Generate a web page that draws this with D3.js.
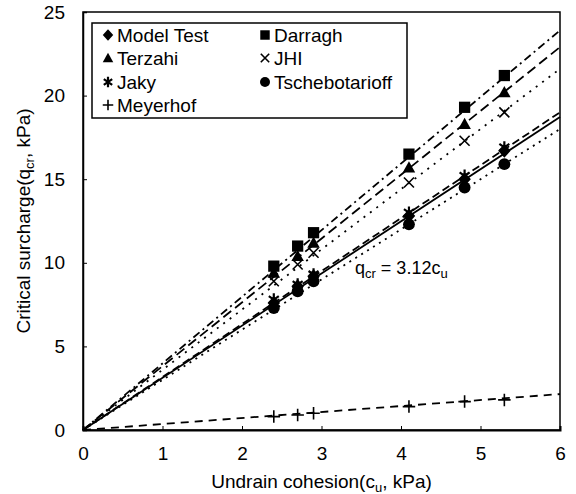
<!DOCTYPE html>
<html>
<head>
<meta charset="utf-8">
<script src="https://cdn.jsdelivr.net/npm/d3@7"></script>
<style>
  body { margin: 0; background: #fff; }
  svg { font-family: "Liberation Sans", Arial, sans-serif; }
</style>
</head>
<body>
<div id="chart"></div>
<script>
// measured points (cu, kPa)
const cu = [2.4, 2.7, 2.9, 4.1, 4.8, 5.3];

const modelTest = [7.6, 8.6, 9.2, 12.8, 15.0, 16.7];
const darragh = [9.8, 11.0, 11.8, 16.5, 19.3, 21.2];
const terzahi = [9.4, 10.4, 11.2, 15.7, 18.3, 20.2];
const jhi = [8.9, 9.9, 10.6, 14.8, 17.3, 19.0];
const jaky = [7.8, 8.7, 9.3, 13.0, 15.2, 16.9];
const tscheb = [7.3, 8.3, 8.9, 12.3, 14.5, 15.9];
const meyerhof = [0.8, 0.9, 1.0, 1.4, 1.7, 1.8];

// fitted lines, value at cu = 0 and cu = 6
const fitCu = [0, 6];
const fitModel = [0, 18.72];
const fitDarragh = [0, 23.9];
const fitTerzahi = [0, 22.9];
const fitJhi = [0, 21.6];
const fitJaky = [0, 19.0];
const fitTscheb = [0, 18.0];
const fitMeyerhof = [0, 2.15];

const xTicks = [0, 1, 2, 3, 4, 5, 6];
const yTicks = [0, 5, 10, 15, 20, 25];

const width = 576;
const height = 494;
const plot = {left: 83, right: 560, top: 12, bottom: 430};

const series = [
  {name: 'Model Test', values: modelTest, fit: fitModel, marker: 'diamond', dash: null},
  {name: 'Darragh', values: darragh, fit: fitDarragh, marker: 'square', dash: '8,4,2,4'},
  {name: 'Terzahi', values: terzahi, fit: fitTerzahi, marker: 'triangle', dash: '10,5'},
  {name: 'JHI', values: jhi, fit: fitJhi, marker: 'times', dash: '2,6'},
  {name: 'Jaky', values: jaky, fit: fitJaky, marker: 'asterisk', dash: '8,4'},
  {name: 'Tschebotarioff', values: tscheb, fit: fitTscheb, marker: 'circle', dash: '2,5'},
  {name: 'Meyerhof', values: meyerhof, fit: fitMeyerhof, marker: 'plus', dash: '8,6'}
];

const x = d3.scaleLinear().domain([0, 6]).range([plot.left, plot.right]);
const y = d3.scaleLinear().domain([0, 25]).range([plot.bottom, plot.top]);

const svg = d3.select('#chart')
  .append('svg')
  .attr('width', width)
  .attr('height', height);

// draws one marker of size s centred at (cx, cy)
function drawMarker(g, type, cx, cy, s) {
  const h = s / 2;
  if (type === 'diamond') {
    g.append('path')
      .attr('d', `M${cx},${cy - h * 1.1}L${cx + h},${cy}L${cx},${cy + h * 1.1}L${cx - h},${cy}Z`)
      .attr('fill', 'black');
  } else if (type === 'square') {
    g.append('rect')
      .attr('x', cx - h * 0.9).attr('y', cy - h * 0.9)
      .attr('width', s * 0.9).attr('height', s * 0.9)
      .attr('fill', 'black');
  } else if (type === 'triangle') {
    g.append('path')
      .attr('d', `M${cx},${cy - h}L${cx + h},${cy + h * 0.8}L${cx - h},${cy + h * 0.8}Z`)
      .attr('fill', 'black');
  } else if (type === 'circle') {
    g.append('circle')
      .attr('cx', cx).attr('cy', cy).attr('r', h * 0.95)
      .attr('fill', 'black');
  } else if (type === 'times') {
    const k = h * 0.8;
    g.append('path')
      .attr('d', `M${cx - k},${cy - k}L${cx + k},${cy + k}M${cx - k},${cy + k}L${cx + k},${cy - k}`)
      .attr('stroke', 'black').attr('stroke-width', 1.6).attr('fill', 'none');
  } else if (type === 'asterisk') {
    const k = h * 0.8;
    g.append('path')
      .attr('d', `M${cx - k},${cy - k * 0.7}L${cx + k},${cy + k * 0.7}M${cx - k},${cy + k * 0.7}L${cx + k},${cy - k * 0.7}M${cx},${cy - h}L${cx},${cy + h}`)
      .attr('stroke', 'black').attr('stroke-width', 2.2).attr('fill', 'none');
  } else if (type === 'plus') {
    g.append('path')
      .attr('d', `M${cx - h},${cy}L${cx + h},${cy}M${cx},${cy - h}L${cx},${cy + h}`)
      .attr('stroke', 'black').attr('stroke-width', 1.6).attr('fill', 'none');
  }
}

// fitted lines
const line = d3.line()
  .x(function(d) { return x(d[0]); })
  .y(function(d) { return y(d[1]); });

const lines = svg.append('g');
series.forEach(function(s) {
  lines.append('path')
    .attr('d', line(d3.zip(fitCu, s.fit)))
    .attr('fill', 'none')
    .attr('stroke', 'black')
    .attr('stroke-width', 1.8)
    .attr('stroke-dasharray', s.dash);
});

// points
const points = svg.append('g');
series.slice().reverse().forEach(function(s) {
  s.values.forEach(function(v, i) {
    drawMarker(points, s.marker, x(cu[i]), y(v), 12.5);
  });
});

// frame
svg.append('rect')
  .attr('x', plot.left)
  .attr('y', plot.top)
  .attr('width', plot.right - plot.left)
  .attr('height', plot.bottom - plot.top)
  .attr('fill', 'none')
  .attr('stroke', 'black')
  .attr('stroke-width', 1.5);

// axes
const xAxis = svg.append('g')
  .attr('transform', `translate(0,${plot.bottom})`)
  .call(d3.axisBottom(x).tickValues(xTicks).tickSize(-4).tickPadding(17).tickFormat(d3.format('d')));
xAxis.select('.domain').attr('stroke-width', 2);
xAxis.selectAll('text').attr('font-size', 19).attr('font-family', 'Liberation Sans, Arial, sans-serif');

const yAxis = svg.append('g')
  .attr('transform', `translate(${plot.left},0)`)
  .call(d3.axisLeft(y).tickValues(yTicks).tickSize(-4).tickPadding(18).tickFormat(d3.format('d')));
yAxis.select('.domain').attr('stroke-width', 1.5);
yAxis.selectAll('text').attr('font-size', 19).attr('font-family', 'Liberation Sans, Arial, sans-serif');

// axis titles
const xTitle = svg.append('text')
  .attr('x', (plot.left + plot.right) / 2)
  .attr('y', 488)
  .attr('text-anchor', 'middle')
  .attr('font-size', 19);
xTitle.append('tspan').text('Undrain cohesion(c');
xTitle.append('tspan').attr('font-size', 13).attr('dy', 4).text('u');
xTitle.append('tspan').attr('dy', -4).text(', kPa)');

const yTitle = svg.append('text')
  .attr('transform', `translate(30,${(plot.top + plot.bottom) / 2}) rotate(-90)`)
  .attr('text-anchor', 'middle')
  .attr('font-size', 19);
yTitle.append('tspan').text('Critical surcharge(q');
yTitle.append('tspan').attr('font-size', 13).attr('dy', 4).text('cr');
yTitle.append('tspan').attr('dy', -4).text(', kPa)');

// equation label
const eq = svg.append('text')
  .attr('x', 355)
  .attr('y', 274)
  .attr('font-size', 18);
eq.append('tspan').text('q');
eq.append('tspan').attr('font-size', 13).attr('dy', 4).text('cr');
eq.append('tspan').attr('dy', -4).text(' = 3.12c');
eq.append('tspan').attr('font-size', 13).attr('dy', 4).text('u');

// legend
const legend = svg.append('g');
legend.append('rect')
  .attr('x', 92).attr('y', 23)
  .attr('width', 315).attr('height', 95)
  .attr('fill', 'white')
  .attr('stroke', 'black')
  .attr('stroke-width', 1.5);

const legendCols = [108, 265];
const legendRows = [35, 58, 82, 105];
const legendOrder = ['Model Test', 'Darragh', 'Terzahi', 'JHI', 'Jaky', 'Tschebotarioff', 'Meyerhof'];
legendOrder.forEach(function(name, i) {
  const s = series.find(function(d) { return d.name === name; });
  const lx = legendCols[i % 2];
  const ly = legendRows[Math.floor(i / 2)];
  drawMarker(legend, s.marker, lx, ly, 10.5);
  legend.append('text')
    .attr('x', lx + 9)
    .attr('y', ly + 7)
    .attr('font-size', 19)
    .text(name);
});
</script>
</body>
</html>
